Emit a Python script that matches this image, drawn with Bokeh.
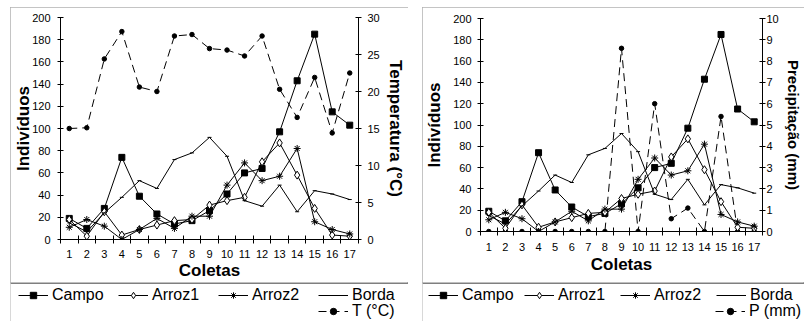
from bokeh.plotting import figure
from bokeh.models import (Range1d, LinearAxis, FixedTicker, Legend, LegendItem, Spacer, Span)
from bokeh.layouts import row, column
from bokeh.embed import file_html
from bokeh.resources import INLINE

# ---------------- data ----------------
coletas = list(range(1, 18))
campo = [19, 10, 28, 74, 39, 23, 14, 17, 26, 41, 60, 64, 97, 143, 185, 115, 103]
arroz1 = [18, 3, 25, 4, 9, 13, 17, 18, 31, 35, 38, 70, 87, 58, 28, 4, 3]
arroz2 = [11, 18, 12, 0, 9, 19, 10, 21, 21, 49, 69, 53, 57, 82, 16, 9, 5]
borda = [15, 7, 24, 38, 53, 46, 72, 78, 92, 75, 35, 30, 49, 25, 44, 41, 36]
temperatura = [15.0, 15.1, 24.4, 28.1, 20.6, 20.0, 27.5, 27.7, 25.8, 25.6, 24.8, 27.5, 20.3, 16.5, 21.9, 14.4, 22.5]
precipitacao = [0, 0, 0, 0, 0, 0, 0, 0, 8.6, 0, 6.0, 0.6, 1.1, 0, 5.4, 0, 0]

x_labels = coletas
x_bounds = [i + 0.5 for i in range(0, 18)]
y_ticks = list(range(0, 201, 20))
temp_ticks = list(range(0, 31, 5))
prec_ticks = list(range(0, 11))
series_names = ["Campo", "Arroz1", "Arroz2", "Borda"]

FONT = "Liberation Sans"
MAIN_H = 275
LEG_H = 39
FRAME_COLOR = "#b0b0b0"


def add_series(p, y, marker, size, fill, rng="default", dash="solid"):
    l = p.line(coletas, y, line_color="black", line_width=1, line_dash=dash, y_range_name=rng)
    s = p.scatter(coletas, y, marker=marker, size=size, fill_color=fill, line_color="black",
                  line_width=1, y_range_name=rng)
    return [l, s]


def all_series(p, sec_values, sec_rng):
    rt = add_series(p, sec_values, "circle", 4.5, "black", rng=sec_rng, dash="8 5")
    rs = [
        add_series(p, campo, "square", 6, "black"),
        add_series(p, arroz1, "diamond", 8, "white"),
        add_series(p, arroz2, "asterisk", 7, None),
        add_series(p, borda, "dash", 4, None),
    ]
    return rs, rt


def style_text_axis(ax, label_standoff, title_size="17px"):
    ax.major_label_text_font = FONT
    ax.major_label_text_font_size = "11px"
    ax.major_label_text_color = "black"
    ax.major_label_standoff = label_standoff
    ax.axis_label_text_font = FONT
    ax.axis_label_text_font_size = title_size
    ax.axis_label_text_font_style = "bold"
    ax.axis_label_text_color = "black"
    ax.axis_line_color = "black"


def make_main(width, mb_left, mb_right, mb_top, mb_bottom, sec_end, sec_ticks, sec_title,
              sec_values, ytitle_standoff, ylab_standoff, rlab_standoff, rtitle_standoff,
              rtitle_size, xlab_standoff, xtitle_standoff):
    p = figure(width=width, height=MAIN_H, x_range=Range1d(0.5, 17.5), y_range=Range1d(0, 200),
               output_backend="svg", toolbar_location=None,
               min_border_left=mb_left, min_border_right=mb_right,
               min_border_top=mb_top, min_border_bottom=mb_bottom,
               background_fill_color="white", border_fill_color="white")
    p.frame_align = False
    p.outline_line_color = None
    p.xgrid.visible = False
    p.ygrid.visible = False
    p.extra_y_ranges = {"sec": Range1d(0, sec_end)}

    xa = p.xaxis[0]
    xa.ticker = FixedTicker(ticks=x_labels, minor_ticks=x_bounds)
    xa.major_tick_line_color = None
    xa.major_tick_in = 0
    xa.major_tick_out = 4
    xa.minor_tick_in = 4
    xa.minor_tick_out = 4
    xa.minor_tick_line_color = "black"
    style_text_axis(xa, xlab_standoff)
    xa.axis_label = "Coletas"
    xa.axis_label_standoff = xtitle_standoff

    ya = p.yaxis[0]
    ya.ticker = FixedTicker(ticks=y_ticks)
    ya.minor_tick_line_color = None
    ya.major_tick_in = 3
    ya.major_tick_out = 3
    ya.major_tick_line_color = "black"
    style_text_axis(ya, ylab_standoff)
    ya.axis_label = "Indivíduos"
    ya.axis_label_standoff = ytitle_standoff

    ra = LinearAxis(y_range_name="sec", ticker=FixedTicker(ticks=sec_ticks))
    ra.minor_tick_line_color = None
    ra.major_tick_in = 3
    ra.major_tick_out = 3
    ra.major_tick_line_color = "black"
    style_text_axis(ra, rlab_standoff, rtitle_size)
    ra.axis_label = sec_title
    ra.axis_label_standoff = rtitle_standoff
    p.add_layout(ra, "right")

    all_series(p, sec_values, "sec")
    return p


def make_legend(width, sec_name, glyph_x, label_width, sec_x):
    lf = figure(width=width, height=LEG_H, x_range=Range1d(-3, -2), y_range=Range1d(0, LEG_H),
                output_backend="svg", toolbar_location=None,
                min_border_left=0, min_border_right=0, min_border_top=0, min_border_bottom=0,
                x_axis_location=None, y_axis_location=None,
                background_fill_color="white", border_fill_color="white")
    lf.frame_align = False
    lf.outline_line_color = None
    lf.xgrid.visible = False
    lf.ygrid.visible = False
    lf.extra_y_ranges = {"sec": Range1d(0, 1)}
    # legend proxies (outside the visible range, only their styles are used)
    rs, rt = all_series(lf, precipitacao, "sec")
    lf.add_layout(Span(location=LEG_H - 0.5, dimension="width", line_color="black", line_width=1))

    common = dict(orientation="horizontal", padding=0, margin=0, spacing=0,
                  border_line_color=None, background_fill_alpha=0,
                  glyph_width=30, glyph_height=16, label_height=16, label_width=label_width,
                  label_standoff=4, label_text_font=FONT, label_text_font_size="16px",
                  label_text_color="black")
    row_h = 18
    y1 = LEG_H - (13 + row_h / 2)
    y2 = LEG_H - (29 + row_h / 2)
    leg_a = Legend(items=[LegendItem(label=n, renderers=r) for n, r in zip(series_names, rs)],
                   location=(glyph_x, y1), **common)
    leg_b = Legend(items=[LegendItem(label=sec_name, renderers=rt)], location=(sec_x, y2), **common)
    lf.add_layout(leg_a, "center")
    lf.add_layout(leg_b, "center")
    return lf


p1 = make_main(width=398, mb_left=50, mb_right=50, mb_top=10, mb_bottom=42,
               sec_end=30, sec_ticks=temp_ticks, sec_title="Temperatura (°C)",
               sec_values=temperatura, ytitle_standoff=-4, ylab_standoff=7, rlab_standoff=6,
               rtitle_standoff=3, rtitle_size="17px", xlab_standoff=6, xtitle_standoff=0)
l1 = make_legend(398, "T (°C)", glyph_x=8, label_width=66, sec_x=308)

p2 = make_main(width=382, mb_left=57, mb_right=38, mb_top=11, mb_bottom=51,
               sec_end=10, sec_ticks=prec_ticks, sec_title="Precipitação (mm)",
               sec_values=precipitacao, ytitle_standoff=6, ylab_standoff=6, rlab_standoff=1,
               rtitle_standoff=3, rtitle_size="15px", xlab_standoff=7, xtitle_standoff=1)
l2 = make_legend(382, "P (mm)", glyph_x=6, label_width=62, sec_x=293)

box_style = {"outline": "1px solid " + FRAME_COLOR, "outline-offset": "-1px"}
c1 = column(p1, l1, spacing=0, styles=box_style)
c2 = column(p2, l2, spacing=0, styles=box_style)

layout = column(Spacer(height=7),
                row(Spacer(width=10), c1, Spacer(width=14), c2, spacing=0),
                spacing=0)

open("out.html", "w").write(file_html(layout, INLINE))
